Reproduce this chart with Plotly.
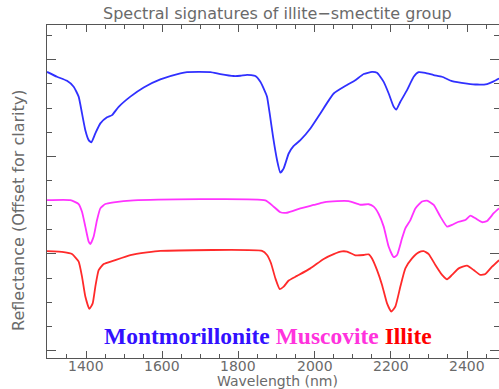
import plotly.graph_objects as go

# Montmorillonite (blue)
mont_wl = [1297.6, 1323.9, 1350.1, 1367.6, 1380.7, 1389.5, 1398.2, 1407.0, 1414.0, 1424.5,
           1437.6, 1455.1, 1468.2, 1485.7, 1516.4, 1551.4, 1595.1, 1647.6, 1665.1, 1726.4,
           1752.6, 1787.6, 1805.1, 1822.6, 1844.5, 1857.6, 1868.1, 1875.1, 1882.1, 1890.9,
           1901.4, 1910.1, 1918.9, 1932.0, 1945.1, 1962.6, 1988.9, 2015.1, 2050.1, 2085.1,
           2107.0, 2128.9, 2150.7, 2163.9, 2181.4, 2194.5, 2207.6, 2214.6, 2225.1, 2242.6,
           2260.1, 2273.2, 2290.7, 2312.6, 2334.5, 2360.7, 2400.1, 2426.4, 2452.6, 2470.1, 2484.1]
mont_r = [1.149, 1.129, 1.112, 1.088, 1.047, 0.978, 0.909, 0.868, 0.859, 0.896,
          0.937, 0.962, 0.971, 1.005, 1.047, 1.085, 1.118, 1.143, 1.148, 1.148,
          1.140, 1.132, 1.133, 1.137, 1.132, 1.108, 1.074, 1.047, 0.978, 0.882,
          0.786, 0.734, 0.752, 0.813, 0.844, 0.868, 0.916, 0.978, 1.060, 1.095,
          1.115, 1.140, 1.149, 1.145, 1.108, 1.060, 1.005, 0.994, 1.026, 1.074,
          1.129, 1.148, 1.145, 1.136, 1.129, 1.111, 1.101, 1.097, 1.099, 1.110, 1.122]

# Muscovite (magenta)
musc_wl = [1297.6, 1358.9, 1380.7, 1389.5, 1398.2, 1407.0, 1411.4, 1420.1, 1428.9, 1437.6,
           1450.7, 1472.6, 1525.1, 1870.7, 1892.6, 1910.1, 1927.6, 1962.6, 1997.6, 2023.9,
           2058.9, 2089.5, 2120.1, 2142.0, 2155.1, 2168.2, 2181.4, 2194.5, 2207.6, 2216.4,
           2229.5, 2238.2, 2251.4, 2264.5, 2282.0, 2295.1, 2312.6, 2330.1, 2347.6, 2360.7,
           2378.2, 2395.7, 2408.9, 2422.0, 2439.5, 2452.6, 2470.1, 2484.1]
musc_r = [0.621, 0.621, 0.605, 0.573, 0.512, 0.450, 0.440, 0.471, 0.539, 0.587,
          0.605, 0.612, 0.620, 0.620, 0.594, 0.571, 0.569, 0.587, 0.601, 0.612,
          0.617, 0.617, 0.602, 0.604, 0.594, 0.564, 0.512, 0.429, 0.386, 0.395,
          0.464, 0.505, 0.539, 0.587, 0.615, 0.619, 0.601, 0.553, 0.512, 0.519,
          0.532, 0.539, 0.557, 0.546, 0.530, 0.535, 0.567, 0.587]

# Illite (red)
illi_wl = [1297.6, 1341.4, 1363.2, 1380.7, 1389.5, 1398.2, 1408.7, 1417.5, 1424.5, 1433.2,
           1446.4, 1472.6, 1516.4, 1560.1, 1595.1, 1862.0, 1875.1, 1885.6, 1897.0, 1908.4,
           1918.9, 1932.0, 1953.9, 1988.9, 2023.9, 2050.1, 2072.0, 2085.1, 2107.0, 2128.9,
           2142.0, 2150.7, 2163.9, 2177.0, 2190.1, 2201.5, 2212.0, 2225.1, 2238.2, 2255.7,
           2273.2, 2286.4, 2299.5, 2317.0, 2334.5, 2347.6, 2360.7, 2378.2, 2400.1, 2417.6,
           2435.1, 2448.2, 2465.7, 2484.1]
illi_r = [0.411, 0.407, 0.399, 0.368, 0.306, 0.224, 0.173, 0.196, 0.265, 0.333,
          0.358, 0.372, 0.395, 0.406, 0.412, 0.412, 0.395, 0.361, 0.299, 0.255,
          0.265, 0.290, 0.309, 0.340, 0.379, 0.399, 0.410, 0.409, 0.394, 0.395,
          0.398, 0.381, 0.333, 0.272, 0.196, 0.162, 0.183, 0.265, 0.340, 0.381,
          0.406, 0.411, 0.399, 0.354, 0.313, 0.295, 0.313, 0.340, 0.351, 0.333,
          0.313, 0.317, 0.347, 0.374]

x_tickvals = [1400, 1600, 1800, 2000, 2200, 2400]
x_ticktext = ["1400", "1600", "1800", "2000", "2200", "2400"]

AX = "#555555"
TXT = "#6a6a6a"

fig = go.Figure()
for wl, r, col in [(mont_wl, mont_r, "#3030ff"),
                   (musc_wl, musc_r, "#ff33ff"),
                   (illi_wl, illi_r, "#ff2a2a")]:
    fig.add_trace(go.Scatter(x=wl, y=r, mode="lines",
                             line=dict(color=col, width=1.8, shape="spline", smoothing=0.45),
                             showlegend=False, hoverinfo="skip"))

fig.update_layout(
    width=499, height=389,
    margin=dict(l=47, r=0, t=25, b=31),
    paper_bgcolor="white", plot_bgcolor="white",
    font=dict(family="DejaVu Sans", color=AX),
    xaxis=dict(range=[1297.6, 2484], tickvals=x_tickvals, ticktext=x_ticktext,
               ticks="inside", ticklen=7, tickcolor=AX, tickwidth=1,
               showline=True, linecolor=AX, linewidth=1, mirror="ticks",
               showgrid=False, zeroline=False, showticklabels=False,
               minor=dict(dtick=50, tick0=0, ticks="inside", ticklen=4, tickcolor=AX, showgrid=False)),
    yaxis=dict(range=[-0.029, 1.342], tick0=0, dtick=0.4,
               ticks="inside", ticklen=9, tickcolor=AX, tickwidth=1,
               showticklabels=False,
               showline=True, linecolor=AX, linewidth=1, mirror="ticks",
               showgrid=False, zeroline=False,
               minor=dict(dtick=0.1, tick0=0, ticks="inside", ticklen=5, tickcolor=AX, showgrid=False)),
)

# x tick labels placed on the x scale
for v, t in zip(x_tickvals, x_ticktext):
    fig.add_annotation(text=t, xref="x", yref="paper", x=v, y=0,
                       xanchor="center", yanchor="middle", yshift=-8, showarrow=False,
                       font=dict(size=14, color=TXT, family="DejaVu Sans"))

fig.add_annotation(text="Spectral signatures of illite\u2212smectite group",
                   xref="paper", yref="paper", x=(277 - 47) / 452, y=1.0, xanchor="center", yanchor="bottom",
                   yshift=0, showarrow=False, font=dict(size=16, color=TXT, family="DejaVu Sans"))
fig.add_annotation(text="Wavelength (nm)",
                   xref="paper", yref="paper", x=(277 - 47) / 452, y=0, xanchor="center", yanchor="middle",
                   yshift=-23, showarrow=False, font=dict(size=14, color=TXT, family="DejaVu Sans"))
fig.add_annotation(text="Reflectance (Offset for clarity)", textangle=-90,
                   xref="paper", yref="paper", x=0, y=(358 - 202) / 333, xanchor="center", yanchor="middle",
                   xshift=-29, yshift=-9, showarrow=False,
                   font=dict(size=16, color=TXT, family="DejaVu Sans"))
fig.add_annotation(text="<b><span style='color:#3311ff'>Montmorillonite</span> "
                        "<span style='color:#ff33dd'>Muscovite</span> "
                        "<span style='color:#ff0000'>Illite</span></b>",
                   xref="paper", yref="paper", x=(268 - 47) / 452, y=(358 - 336) / 333,
                   xanchor="center", yanchor="middle", showarrow=False,
                   font=dict(size=23.5, family="Liberation Serif"))

fig.write_html("out.html")
